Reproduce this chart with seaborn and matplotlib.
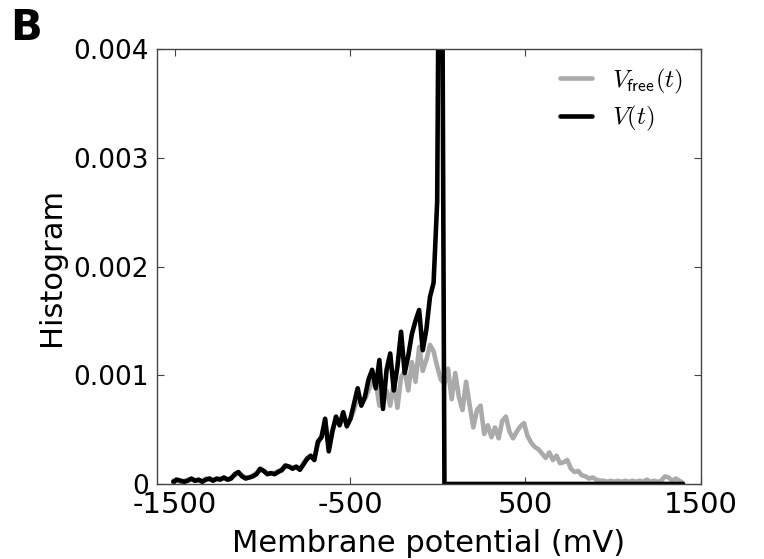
import numpy as np
import pandas as pd
import matplotlib
matplotlib.use("Agg")
import matplotlib.pyplot as plt
from matplotlib.lines import Line2D
import seaborn as sns

# ---- data (histogram values in units of 1e-4) ----
bin_start = -1507.0
bin_width = 20.6

v_free = [
    0.3, 0.3, 0.2, 0.3, 0.4, 0.4, 0.3, 0.3, 0.3, 0.5, 0.4, 0.4, 0.4, 0.5, 0.5, 0.4, 0.6,
    0.8, 1.0, 0.8, 0.6, 0.6,
    0.8, 1.0, 1.3, 1.2, 1.0,
    1.0, 1.0, 1.2, 1.2,
    1.6, 1.6, 1.5, 1.5, 1.4,
    1.9, 2.4, 2.5, 2.4,
    3.7, 4.4, 5.7, 3.4,
    5.0, 5.9, 5.4, 6.2,
    5.5, 6.0, 6.8, 8.0,
    7.4, 7.8, 8.6, 9.4,
    9.4, 7.2, 7.8, 8.6,
    7.2, 9.4, 7.0, 9.8,
    10.4, 8.6, 11.2, 9.4,
    12.6, 10.4, 11.4, 12.8,
    12.2, 10.8, 9.6,
    9.2, 10.6, 7.8, 10.2, 8.0, 6.8, 9.4,
    7.2, 5.2, 6.8, 7.2, 4.6, 5.4, 4.3, 5.2, 4.2, 5.8,
    6.2, 4.8, 4.2, 4.8, 5.3, 5.6, 4.4, 3.8, 3.4, 3.2,
    2.8, 2.4, 2.9, 2.2, 2.6, 1.9, 2.0, 2.2, 1.4, 1.1,
    1.2, 0.8, 0.7, 0.5, 0.6, 0.4, 0.3, 0.3, 0.2, 0.3,
    0.2, 0.3, 0.2, 0.3, 0.2, 0.3, 0.2, 0.3, 0.2, 0.4,
    0.2, 0.3, 0.2, 0.3, 0.7, 0.6, 0.3, 0.5, 0.3, 0.1,
]

v_full = [
    0.2, 0.4, 0.3, 0.2, 0.3, 0.5, 0.3, 0.4, 0.2, 0.4, 0.5, 0.3, 0.5, 0.4, 0.6, 0.4, 0.5,
    0.9, 1.1, 0.7, 0.5, 0.6,
    0.7, 0.9, 1.4, 1.2, 0.9,
    1.0, 0.9, 1.1, 1.3,
    1.7, 1.6, 1.4, 1.6, 1.3,
    1.8, 2.3, 2.6, 2.2,
    3.9, 4.3, 6.0, 3.0,
    4.8, 6.2, 5.4, 6.6,
    5.3, 6.0, 7.4, 8.8,
    7.2, 8.0, 9.6, 10.5,
    8.8, 11.4, 6.9, 10.5,
    12.0, 8.6, 10.8, 14.0,
    10.2, 11.8, 13.8, 15.0,
    16.0, 12.3, 14.2, 17.2,
    18.5, 26.0, 80.0,
] + [0.0] * 67

scale = 1e-4
x_ticks = [-1500, -500, 500, 1500]
y_ticks = [0, 0.001, 0.002, 0.003, 0.004]
y_tick_labels = ["0", "0.001", "0.002", "0.003", "0.004"]
legend_labels = [r"$V_{\mathsf{free}}(t)$", r"$V(t)$"]
colors = ["#aaaaaa", "#000000"]

centers = bin_start + bin_width * np.arange(len(v_free))
df = pd.concat([
    pd.DataFrame({"x": centers, "y": np.array(v_free) * scale, "s": legend_labels[0]}),
    pd.DataFrame({"x": centers, "y": np.array(v_full) * scale, "s": legend_labels[1]}),
], ignore_index=True)

sns.set_theme(style="white")
plt.rcParams["font.family"] = ["DejaVu Sans"]
plt.rcParams["mathtext.fontset"] = "cm"
plt.rcParams["text.color"] = "black"
plt.rcParams["axes.labelcolor"] = "black"
plt.rcParams["xtick.color"] = "black"
plt.rcParams["ytick.color"] = "black"

fig = plt.figure(figsize=(7.64, 5.59), dpi=100)
ax = fig.add_axes([0.2055, 0.1342, 0.712, 0.7781])

sns.lineplot(data=df, x="x", y="y", hue="s", palette=colors, linewidth=3.3,
             sort=False, ax=ax, legend=False)

ax.set_xlim(-1600, 1500)
ax.set_ylim(0, 0.004)
ax.set_xticks(x_ticks)
ax.set_xticklabels([str(t) for t in x_ticks])
ax.set_yticks(y_ticks)
ax.set_yticklabels(y_tick_labels)
ax.tick_params(direction="in", length=5, width=0.8, top=True, right=True,
               bottom=True, left=True, pad=6, color="#444444")
ax.tick_params(axis="y", labelsize=19)
ax.tick_params(axis="x", labelsize=21, pad=5)
for sp in ax.spines.values():
    sp.set_color("#444444")
    sp.set_linewidth(1.0)
    sp.set_visible(True)

ax.set_xlabel("Membrane potential (mV)", fontsize=22, labelpad=7)
ax.set_ylabel("Histogram", fontsize=22, labelpad=5)

handles = [Line2D([], [], color=c, lw=3.3) for c in colors]
ax.legend(handles, legend_labels, loc="upper right", frameon=False, fontsize=18,
          handlelength=1.3, handletextpad=0.8, labelspacing=0.35,
          borderaxespad=0.3)

fig.text(0.034, 0.95, "B", fontsize=30, fontweight="bold", ha="center", va="center")

fig.savefig("out.png", dpi=100)
